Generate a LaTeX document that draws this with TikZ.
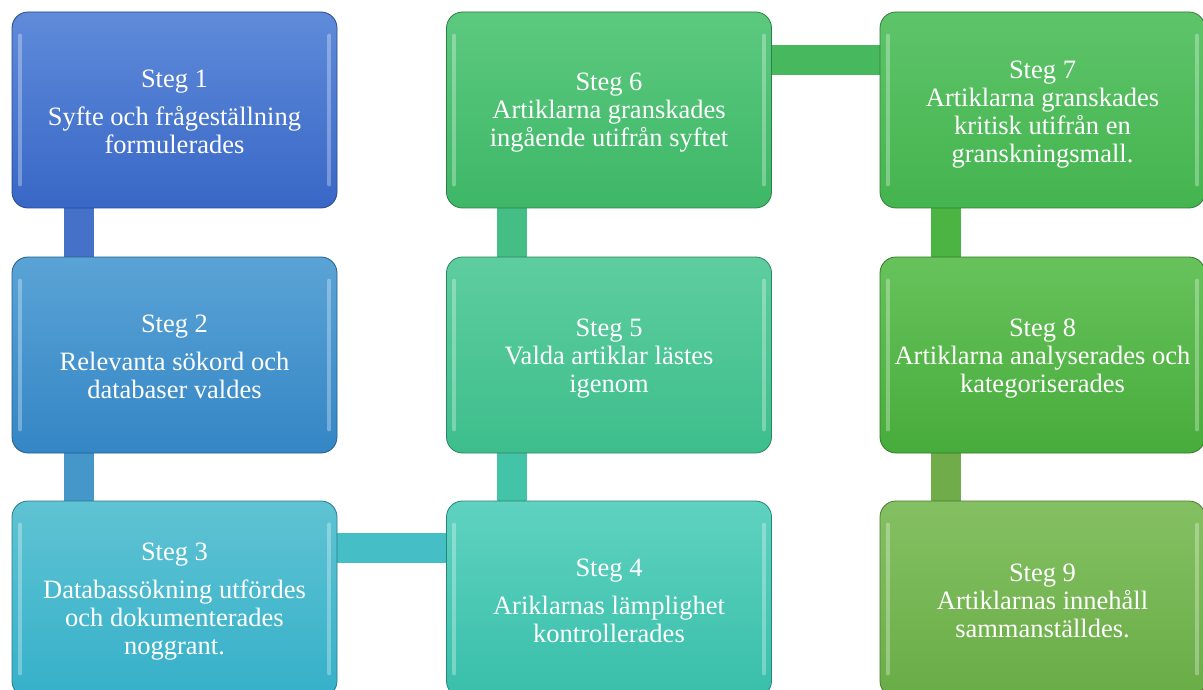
\documentclass[tikz,border=0pt]{standalone}
\usepackage{fontspec}
\setmainfont{Liberation Serif}
\usetikzlibrary{backgrounds,calc}
\definecolor{t1}{HTML}{5F8BDA}\definecolor{u1}{HTML}{3867C6}
\definecolor{t2}{HTML}{5AA3D6}\definecolor{u2}{HTML}{3486C5}
\definecolor{t3}{HTML}{5FC3D3}\definecolor{u3}{HTML}{35B0C9}
\definecolor{t4}{HTML}{5FD2C0}\definecolor{u4}{HTML}{38BFAA}
\definecolor{t5}{HTML}{5ECD9F}\definecolor{u5}{HTML}{3DBE8C}
\definecolor{t6}{HTML}{5CC97F}\definecolor{u6}{HTML}{3EB767}
\definecolor{t7}{HTML}{5EC46A}\definecolor{u7}{HTML}{44B44E}
\definecolor{t8}{HTML}{67C25B}\definecolor{u8}{HTML}{47AC3B}
\definecolor{t9}{HTML}{84C062}\definecolor{u9}{HTML}{69AD47}
\definecolor{k12}{HTML}{4571C9}
\definecolor{k23}{HTML}{4497C8}
\definecolor{k34}{HTML}{45BEC6}
\definecolor{k45}{HTML}{43C4A8}
\definecolor{k56}{HTML}{45BE86}
\definecolor{k67}{HTML}{47B85E}
\definecolor{k78}{HTML}{4CB443}
\definecolor{k89}{HTML}{70AD4A}
\tikzset{
  stepbox/.style 2 args={draw=#2!70!black, line width=0.8pt, rounded corners=16pt,
    top color=#1, bottom color=#2, minimum width=325pt, minimum height=196pt,
    inner sep=0pt},
  steptext/.style={inner sep=0pt, text=white, align=center,
    font=\fontsize{26.5}{28}\selectfont},
  link/.style={line width=30pt, draw=#1},
  shine/.style={line width=4pt, white, opacity=0.3, line cap=round},
}
\newcommand\mkstep[6]{%
  \node[stepbox=#4] (#1) at (#2,#3) {};
  \draw[shine] ([xshift=8pt,yshift=-24pt]#1.north west) -- ([xshift=8pt,yshift=24pt]#1.south west);
  \draw[shine] ([xshift=-8pt,yshift=-24pt]#1.north east) -- ([xshift=-8pt,yshift=24pt]#1.south east);
  \node[steptext] (#1t) at ([yshift=-#5pt]#1.center) {#6};
}
\begin{document}
\begin{tikzpicture}[x=1pt,y=-1pt]
\useasboundingbox (0,0) rectangle (1203,690);
\mkstep{b1}{174.5}{110}{{t1}{u1}}{2}{Steg 1\\[10pt]Syfte och frågeställning\\formulerades}
\mkstep{b2}{174.5}{355}{{t2}{u2}}{2}{Steg 2\\[10pt]Relevanta sökord och\\databaser valdes}
\mkstep{b3}{174.5}{599}{{t3}{u3}}{3}{Steg 3\\[10pt]Databassökning utfördes\\och dokumenterades\\noggrant.}
\mkstep{b4}{609}{599}{{t4}{u4}}{2}{Steg 4\\[10pt]Ariklarnas lämplighet\\kontrollerades}
\mkstep{b5}{609}{355}{{t5}{u5}}{4}{Steg 5\\Valda artiklar lästes\\igenom}
\mkstep{b6}{609}{110}{{t6}{u6}}{3}{Steg 6\\Artiklarna granskades\\ingående utifrån syftet}
\mkstep{b7}{1042.5}{110}{{t7}{u7}}{5}{Steg 7\\Artiklarna granskades\\kritisk utifrån en\\granskningsmall.}
\mkstep{b8}{1042.5}{355}{{t8}{u8}}{4}{Steg 8\\Artiklarna analyserades och\\kategoriserades}
\mkstep{b9}{1042.5}{599}{{t9}{u9}}{2}{Steg 9\\Artiklarnas innehåll\\sammanställdes.}
\begin{scope}[on background layer]
  \fill[white] (0,0) rectangle (1203,690);
  \draw[link=k12] ([xshift=67pt]b1.south west) -- ([xshift=67pt]b2.north west);
  \draw[link=k23] ([xshift=67pt]b2.south west) -- ([xshift=67pt]b3.north west);
  \draw[link=k34] ([yshift=-47pt]b3.north east) -- ([yshift=-47pt]b4.north west);
  \draw[link=k45] ([xshift=66pt]b4.north west) -- ([xshift=66pt]b5.south west);
  \draw[link=k56] ([xshift=66pt]b5.north west) -- ([xshift=66pt]b6.south west);
  \draw[link=k67] ([yshift=-48pt]b6.north east) -- ([yshift=-48pt]b7.north west);
  \draw[link=k78] ([xshift=66pt]b7.south west) -- ([xshift=66pt]b8.north west);
  \draw[link=k89] ([xshift=66pt]b8.south west) -- ([xshift=66pt]b9.north west);
\end{scope}
\end{tikzpicture}
\end{document}
